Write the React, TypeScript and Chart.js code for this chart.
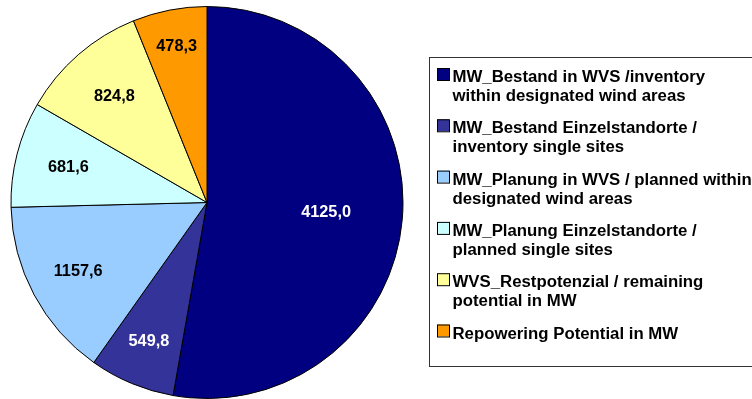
import React, { useEffect, useRef } from "react";
import { Chart, registerables } from "chart.js";

Chart.register(...registerables);

// Legend entries, one array of lines per category
const categories: string[][] = [
  ["MW_Bestand in WVS /inventory", "within designated wind areas"],
  ["MW_Bestand Einzelstandorte /", "inventory single sites"],
  ["MW_Planung in WVS / planned within", "designated wind areas"],
  ["MW_Planung Einzelstandorte /", "planned single sites"],
  ["WVS_Restpotenzial / remaining", "potential in MW"],
  ["Repowering Potential in MW"],
];

// Installed / planned capacity in MW
const capacityMW: number[] = [4125.0, 549.8, 1157.6, 681.6, 824.8, 478.3];

const sliceColors: string[] = ["#000080", "#333399", "#99CCFF", "#CCFFFF", "#FFFF99", "#FF9900"];
const valueTextColors: string[] = ["#FFFFFF", "#FFFFFF", "#000000", "#000000", "#000000", "#000000"];

// Distance of each value label from the centre, as a share of the radius
const labelRadiusShare: number[] = [0.61, 0.77, 0.745, 0.73, 0.72, 0.81];

const FONT = '"Liberation Sans", Arial, Helvetica, sans-serif';

const formatMW = (v: number) => v.toFixed(1).replace(".", ",");

// Value labels inside the slices
const sliceLabels = {
  id: "sliceLabels",
  afterDatasetsDraw(chart: any) {
    const ctx = chart.ctx;
    const meta = chart.getDatasetMeta(0);
    const values = chart.data.datasets[0].data as number[];
    ctx.save();
    ctx.font = `bold 16.3px ${FONT}`;
    ctx.textAlign = "center";
    ctx.textBaseline = "middle";
    meta.data.forEach((arc: any, i: number) => {
      const { x, y, startAngle, endAngle, outerRadius } = arc.getProps(
        ["x", "y", "startAngle", "endAngle", "outerRadius"],
        true
      );
      const mid = (startAngle + endAngle) / 2;
      const r = outerRadius * labelRadiusShare[i];
      ctx.fillStyle = valueTextColors[i];
      ctx.fillText(formatMW(values[i]), x + Math.cos(mid) * r, y + Math.sin(mid) * r);
    });
    ctx.restore();
  },
};

// Boxed legend on the right with wrapped entries
const boxedLegend = {
  id: "boxedLegend",
  afterDraw(chart: any) {
    const ctx = chart.ctx;
    const labels = chart.data.labels as string[][];
    const colors = chart.data.datasets[0].backgroundColor as string[];
    const boxLeft = 429.5;
    const boxTop = 57.5;
    const boxBottom = 366.5;
    const firstBaseline = 82;
    const itemPitch = 51.3;
    const linePitch = 19;
    ctx.save();
    ctx.strokeStyle = "#333333";
    ctx.lineWidth = 1;
    ctx.strokeRect(boxLeft, boxTop, chart.width + 10 - boxLeft, boxBottom - boxTop);

    ctx.font = `bold 16.8px ${FONT}`;
    ctx.textAlign = "left";
    ctx.textBaseline = "alphabetic";
    labels.forEach((lines, i) => {
      const base = firstBaseline + i * itemPitch;
      ctx.fillStyle = colors[i];
      ctx.fillRect(437, base - 14, 12, 12);
      ctx.strokeStyle = "#000000";
      ctx.strokeRect(437.5, base - 13.5, 12, 12);
      ctx.fillStyle = "#000000";
      lines.forEach((line, j) => {
        ctx.fillText(line, 452.5, base + j * linePitch);
      });
    });
    ctx.restore();
  },
};

export default function App() {
  const canvasRef = useRef<HTMLCanvasElement | null>(null);

  useEffect(() => {
    if (!canvasRef.current) return;
    const chart = new Chart(canvasRef.current, {
      type: "pie",
      data: {
        labels: categories,
        datasets: [
          {
            data: capacityMW,
            backgroundColor: sliceColors,
            borderColor: "#000000",
            borderWidth: 1,
            hoverOffset: 0,
            radius: 196,
          } as any,
        ],
      },
      options: {
        animation: false,
        responsive: false,
        maintainAspectRatio: false,
        layout: { padding: { left: 11, top: 6, right: 349, bottom: 0 } },
        plugins: {
          legend: { display: false },
          tooltip: { enabled: false },
          title: { display: false },
        },
        events: [],
      },
      plugins: [sliceLabels, boxedLegend],
    });
    return () => chart.destroy();
  }, []);

  return (
    <div style={{ position: "fixed", left: 0, top: 0, width: 752, height: 399, background: "#FFFFFF" }}>
      <canvas ref={canvasRef} width={752} height={399} style={{ display: "block" }} />
    </div>
  );
}
